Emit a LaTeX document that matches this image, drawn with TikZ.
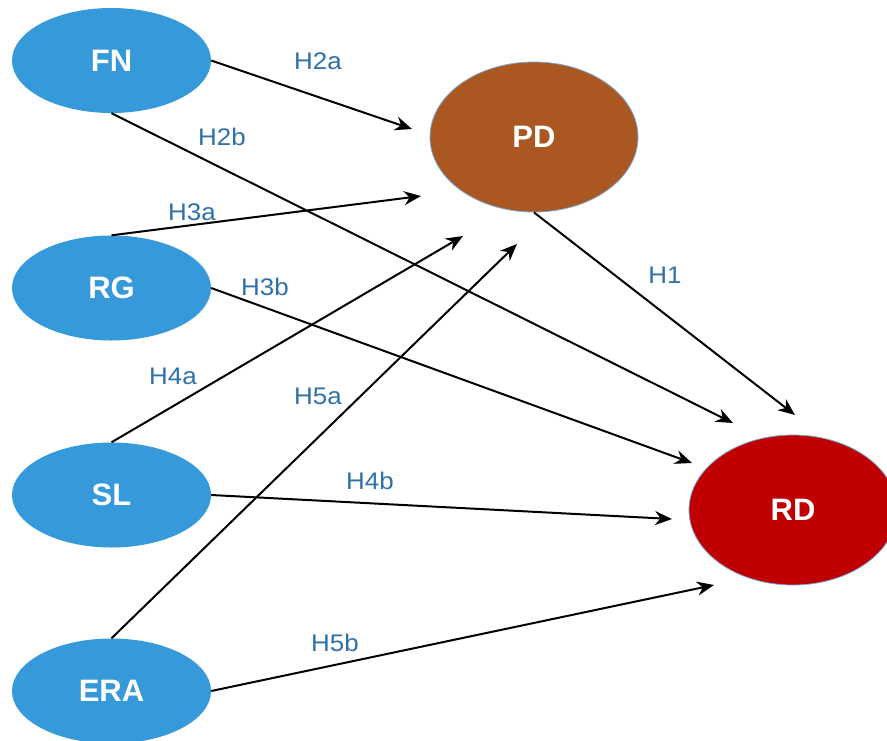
\documentclass[tikz,border=0pt]{standalone}
\usepackage{fontspec}
\setmainfont{Liberation Sans}
\usetikzlibrary{shapes.geometric,arrows.meta}
\definecolor{nodeblue}{RGB}{53,153,218}
\definecolor{pdbrown}{RGB}{171,87,34}
\definecolor{rdred}{RGB}{192,0,0}
\definecolor{labblue}{RGB}{46,112,170}
\definecolor{rimblue}{RGB}{120,170,215}
\tikzset{
  latent/.style={ellipse, fill=nodeblue, draw=none, inner sep=0pt,
    minimum width=199pt, minimum height=105pt,
    text=white, font=\fontsize{31}{31}\selectfont\bfseries},
  outcome/.style={ellipse, draw=rimblue, line width=0.8pt, inner sep=0pt,
    minimum width=208pt, minimum height=150pt,
    text=white, font=\fontsize{31}{31}\selectfont\bfseries},
  hyp/.style={text=labblue, inner sep=0pt, xscale=1.08, font=\fontsize{24}{24}\selectfont},
  arr/.style={draw=black, line width=2pt, -{Stealth[length=17pt,width=14pt]}}
}
\begin{document}
\begin{tikzpicture}[x=1pt,y=-1pt]
\useasboundingbox (0,0) rectangle (887,740);
\clip (0,0) rectangle (887,740);

\node[latent] (FN) at (111.5,60.5) {FN};
\node[latent] (RG) at (111.5,288) {RG};
\node[latent] (SL) at (111.5,495) {SL};
\node[latent] (ERA) at (111.5,691) {ERA};
\node[outcome, fill=pdbrown] (PD) at (534,137) {PD};
\node[outcome, fill=rdred] (RD) at (793,510) {RD};

\coordinate (tFNPD) at (412,129);
\coordinate (tFNRD) at (733,423);
\coordinate (tRGPD) at (421,196);
\coordinate (tRGRD) at (692,463);
\coordinate (tSLPD) at (463,236);
\coordinate (tSLRD) at (672,519);
\coordinate (tERAPD) at (517,244);
\coordinate (tERARD) at (714,585);
\coordinate (tPDRD) at (795,415);

\draw[arr] (FN.east) -- (tFNPD);
\draw[arr] (FN.south) -- (tFNRD);
\draw[arr] (RG.north) -- (tRGPD);
\draw[arr] (RG.east) -- (tRGRD);
\draw[arr] (SL.north) -- (tSLPD);
\draw[arr] (SL.east) -- (tSLRD);
\draw[arr] (ERA.north) -- (tERAPD);
\draw[arr] (ERA.east) -- (tERARD);
\draw[arr] (PD.south) -- (tPDRD);

\node[hyp] (h2a) at (318,61) {H2a};
\node[hyp] (h2b) at (222,137) {H2b};
\node[hyp] (h3a) at (192,212) {H3a};
\node[hyp] (h3b) at (265,287) {H3b};
\node[hyp] (h4a) at (173,376) {H4a};
\node[hyp] (h5a) at (318,396) {H5a};
\node[hyp] (h4b) at (370,481) {H4b};
\node[hyp] (h5b) at (335,643) {H5b};
\node[hyp] (h1) at (665,275) {H1};
\end{tikzpicture}
\end{document}
